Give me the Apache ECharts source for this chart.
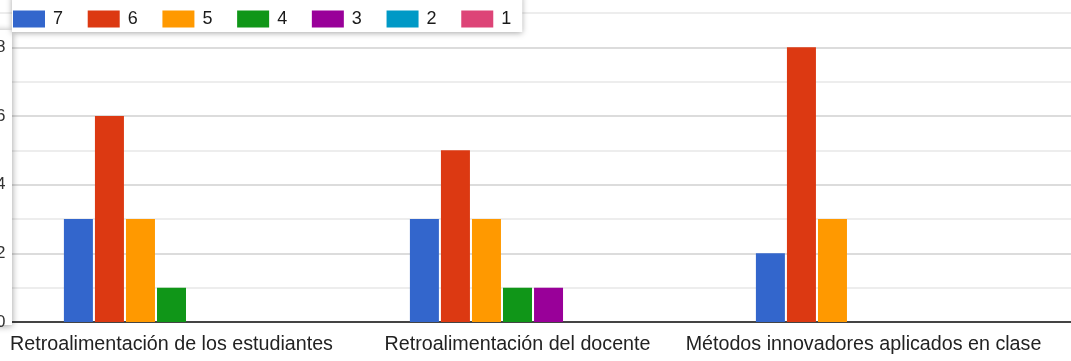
<!DOCTYPE html>
<html><head><meta charset="utf-8">
<script src="https://cdn.jsdelivr.net/npm/echarts@6/dist/echarts.min.js"></script>
<style>html,body{margin:0;padding:0;background:#fff}#c{width:1071px;height:361px}</style>
</head><body><div id="c"></div>
<script>
const categories = ['Retroalimentación de los estudiantes', 'Retroalimentación del docente', 'Métodos innovadores aplicados en clase'];
const seriesNames = ['7', '6', '5', '4', '3', '2', '1'];
const s7 = [3, 3, 2];
const s6 = [6, 5, 8];
const s5 = [3, 3, 3];
const s4 = [1, 1, 0];
const s3 = [0, 1, 0];
const s2 = [0, 0, 0];
const s1 = [0, 0, 0];
const seriesValues = [s7, s6, s5, s4, s3, s2, s1];
const colors = ['#3366cc', '#dc3912', '#ff9900', '#109618', '#990099', '#0099c6', '#dd4477'];

const chart = echarts.init(document.getElementById('c'));
const font = 'Arial, "Liberation Sans", sans-serif';
chart.setOption({
  animation: false,
  color: colors,
  grid: [
    {left: -1.5, width: 1038, top: 13, bottom: 39, containLabel: false, outerBoundsMode: 'none'},
    {left: 0, right: 0, top: 13, bottom: 39, containLabel: false, outerBoundsMode: 'none'}
  ],
  legend: {
    data: seriesNames,
    left: 12, top: -5,
    padding: [15, 11, 4, 1],
    itemWidth: 32, itemHeight: 17, itemGap: 24.7,
    icon: 'rect',
    backgroundColor: '#fff',
    shadowBlur: 6, shadowColor: 'rgba(0,0,0,0.35)', shadowOffsetY: 1,
    textStyle: {fontFamily: font, fontSize: 18, color: '#1a1a1a', padding: [0, 0, 0, 3]},
    z: 20
  },
  xAxis: [
    {type: 'category', gridIndex: 0, data: categories,
     axisLine: {show: false}, axisTick: {show: false},
     axisLabel: {fontFamily: font, fontSize: 19.7, color: '#222', margin: 13, interval: 0}},
    {type: 'value', gridIndex: 1, min: 0, max: 1, show: true,
     axisLine: {show: true, onZero: false, lineStyle: {color: '#444', width: 2}},
     axisTick: {show: false}, axisLabel: {show: false}, splitLine: {show: false}, z: 1}
  ],
  yAxis: [
    {type: 'value', gridIndex: 0, min: 0, max: 9, interval: 1,
     axisLine: {show: false}, axisTick: {show: false}, splitLine: {show: false},
     axisLabel: {fontFamily: font, fontSize: 17, color: '#333', margin: -7,
       formatter: v => (v % 2 === 0 ? String(v) : '')},
     z: 10},
    {type: 'value', gridIndex: 1, min: 0, max: 9, interval: 1,
     axisLine: {show: false}, axisTick: {show: false}, axisLabel: {show: false},
     splitLine: {show: true, lineStyle: {color: ['#dcdcdc', '#ededed'], width: 2}}, z: 0}
  ],
  graphic: [
    {type: 'rect', z: 5, shape: {x: -20, y: 30, width: 32, height: 295},
     style: {fill: '#fff', shadowBlur: 7, shadowColor: 'rgba(0,0,0,0.4)', shadowOffsetY: 1}}
  ],
  series: seriesNames.map((n, i) => ({
    name: n, type: 'bar', xAxisIndex: 0, yAxisIndex: 0,
    data: seriesValues[i], barWidth: 29, barGap: '7%',
    itemStyle: {color: colors[i]}, z: 3
  }))
});
</script></body></html>
